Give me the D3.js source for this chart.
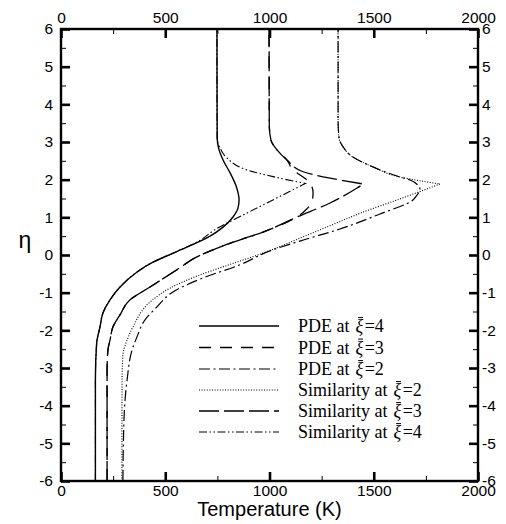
<!DOCTYPE html>
<html>
<head>
<meta charset="utf-8">
<script src="https://cdn.jsdelivr.net/npm/d3@7"></script>
<style>
  html, body { margin: 0; padding: 0; background: #fff; }
  svg { display: block; }
</style>
</head>
<body>
<svg id="chart" width="506" height="524"></svg>
<script>
// Temperature profiles T(eta): PDE solutions vs. similarity solutions
// Each profile is a list of [eta, T] pairs ordered from eta = -6 upward.

const tempTicks = [0, 500, 1000, 1500, 2000];
const tempMinorTicks = [250, 750, 1250, 1750];
const etaTicks = [-6, -5, -4, -3, -2, -1, 0, 1, 2, 3, 4, 5, 6];
const etaMinorTicks = [-5.5, -4.5, -3.5, -2.5, -1.5, -0.5, 0.5, 1.5, 2.5, 3.5, 4.5, 5.5];

const pdeXi4 = [[-6,165],[-3.3,165],[-2.34,171],[-1.91,187],[-1.54,201],[-1.19,235],[-0.85,283],
  [-0.45,365],[-0.19,441],[0.09,555],[0.5,715],[0.74,777],[1.01,825],[1.25,849],[1.46,854],
  [1.78,843],[2.18,811],[2.47,782],[2.79,758],[3.11,749],[6,748]];

const pdeXi3 = [[-6,221],[-3.05,221],[-2.52,225],[-2.26,235],[-1.91,249],[-1.59,283],[-1.19,331],
  [-0.85,427],[-0.39,556],[-0.05,652],[0.35,830],[0.61,969],[1.01,1132],[1.2,1175],[1.33,1195],
  [1.5,1207],[1.65,1209],[1.86,1200],[1.99,1180],[2.26,1113],[2.52,1084],[2.79,1036],
  [3.05,1007],[3.45,999],[6,998]];

const pdeXi2 = [[-6,297],[-4.38,302],[-3.32,317],[-2.52,341],[-2.18,364],[-1.72,403],[-1.38,460],
  [-0.98,537],[-0.61,681],[-0.26,858],[0.11,1002],[0.37,1146],[0.69,1338],[1.09,1530],
  [1.46,1688],[1.59,1707],[1.73,1722],[1.85,1712],[1.99,1674],[2.07,1626],[2.34,1496],
  [2.6,1400],[2.87,1353],[3.13,1333],[3.58,1329],[6,1329]];

const simXi2 = [[-6,292],[-3.32,293],[-2.65,297],[-2.26,317],[-1.91,345],[-1.25,427],[-0.88,523],
  [-0.56,652],[-0.27,800],[0.05,969],[0.48,1160],[0.8,1300],[1.12,1440],[1.49,1626],
  [1.885,1818],[2.07,1626],[2.34,1496],[2.6,1400],[2.87,1353],[3.13,1333],[3.58,1329],[6,1329]];

const simXi3 = [[-6,221],[-3.05,221],[-2.52,225],[-2.26,235],[-1.91,249],[-1.59,283],[-1.19,331],
  [-0.85,427],[-0.39,556],[-0.05,652],[0.35,830],[0.61,969],[1.01,1132],[1.38,1290],[1.78,1420],
  [1.885,1450],[2.04,1290],[2.21,1161],[2.52,1084],[2.79,1036],[3.05,1007],[3.45,999],[6,998]];

const simXi4 = [[-6,165],[-3.3,165],[-2.34,171],[-1.91,187],[-1.54,201],[-1.19,235],[-0.85,283],
  [-0.45,365],[-0.19,441],[0.09,555],[0.4,670],[0.66,735],[1.11,891],[1.55,1048],[1.9,1172],
  [2.08,1017],[2.26,891],[2.58,795],[2.84,763],[3.11,749],[6,748]];

const seriesNames = ["PDE at ", "PDE at ", "PDE at ", "Similarity at ", "Similarity at ", "Similarity at "];
const seriesXi = ["4", "3", "2", "2", "3", "4"];

const series = [
  { data: pdeXi4, cusp: false, dash: null,                  width: 1.4 },
  { data: pdeXi3, cusp: false, dash: "12,9",                width: 1.3 },
  { data: pdeXi2, cusp: false, dash: "11,3.5,2,3.5",        width: 1.2 },
  { data: simXi2, cusp: true,  dash: "1,1.6",               width: 1.1 },
  { data: simXi3, cusp: true,  dash: "20,5",                width: 1.3 },
  { data: simXi4, cusp: true,  dash: "8,2.5,1.5,2.5,1.5,2.5", width: 1.1 }
];

const svg = d3.select("#chart");
const mLeft = 61, mRight = 478, mTop = 29, mBottom = 481;

const x = d3.scaleLinear().domain([0, 2000]).range([mLeft, mRight]);
const y = d3.scaleLinear().domain([-6, 6]).range([mBottom, mTop]);

svg.append("rect").attr("width", 506).attr("height", 524).attr("fill", "#fff");

// curves
const line = d3.line().x(d => x(d[1])).y(d => y(d[0])).curve(d3.curveMonotoneY);

function profilePath(s) {
  if (!s.cusp) return line(s.data);
  // similarity profiles have a sharp peak: draw both branches and join at the peak
  const k = d3.maxIndex(s.data, d => d[1]);
  const lower = line(s.data.slice(0, k + 1));
  const upper = line(s.data.slice(k));
  return lower + upper.replace(/^M[^A-Za-z]*/, "");
}

const plot = svg.append("g");
series.forEach(s => {
  plot.append("path")
    .attr("d", profilePath(s))
    .attr("fill", "none")
    .attr("stroke", "#000")
    .attr("stroke-width", s.width)
    .attr("stroke-dasharray", s.dash);
});

// axes: major and minor ticks on all four sides, pointing inward
const tickFont = "'Liberation Sans', Arial, Helvetica, sans-serif";
function styleAxis(g, w) {
  g.select(".domain").remove();
  g.selectAll(".tick line").attr("stroke", "#000").attr("stroke-width", w);
  g.selectAll("text").attr("font-family", tickFont).attr("font-size", 15.5).attr("fill", "#000");
}
const fmt = d => String(d);

svg.append("g").attr("transform", `translate(0,${mBottom})`)
  .call(d3.axisBottom(x).tickValues(tempTicks).tickFormat(fmt).tickSize(-9).tickPadding(4))
  .call(g => styleAxis(g, 2.6));
svg.append("g").attr("transform", `translate(0,${mBottom})`)
  .call(d3.axisBottom(x).tickValues(tempMinorTicks).tickFormat("").tickSize(-5))
  .call(g => styleAxis(g, 1));
svg.append("g").attr("transform", `translate(0,${mTop})`)
  .call(d3.axisTop(x).tickValues(tempTicks).tickFormat(fmt).tickSize(-9).tickPadding(6))
  .call(g => styleAxis(g, 2.6));
svg.append("g").attr("transform", `translate(0,${mTop})`)
  .call(d3.axisTop(x).tickValues(tempMinorTicks).tickFormat("").tickSize(-5))
  .call(g => styleAxis(g, 1));
svg.append("g").attr("transform", `translate(${mLeft},0)`)
  .call(d3.axisLeft(y).tickValues(etaTicks).tickFormat(fmt).tickSize(-9).tickPadding(8))
  .call(g => styleAxis(g, 2.6));
svg.append("g").attr("transform", `translate(${mLeft},0)`)
  .call(d3.axisLeft(y).tickValues(etaMinorTicks).tickFormat("").tickSize(-5))
  .call(g => styleAxis(g, 1));
svg.append("g").attr("transform", `translate(${mRight},0)`)
  .call(d3.axisRight(y).tickValues(etaTicks).tickFormat(fmt).tickSize(-9).tickPadding(4))
  .call(g => styleAxis(g, 2.6));
svg.append("g").attr("transform", `translate(${mRight},0)`)
  .call(d3.axisRight(y).tickValues(etaMinorTicks).tickFormat("").tickSize(-5))
  .call(g => styleAxis(g, 1));

// frame
svg.append("rect")
  .attr("x", mLeft).attr("y", mTop)
  .attr("width", mRight - mLeft).attr("height", mBottom - mTop)
  .attr("fill", "none").attr("stroke", "#000").attr("stroke-width", 2.4);

// axis titles
svg.append("text")
  .attr("x", (mLeft + mRight) / 2).attr("y", 516)
  .attr("text-anchor", "middle")
  .attr("font-family", tickFont).attr("font-size", 20)
  .text("Temperature (K)");
svg.append("text")
  .attr("x", 25).attr("y", 248)
  .attr("text-anchor", "middle")
  .attr("font-family", tickFont).attr("font-size", 23)
  .text("η");

// legend
const legendRowY = [326, 347.5, 369, 390, 411, 432];
const legend = svg.append("g");
series.forEach((s, i) => {
  const ry = legendRowY[i];
  legend.append("line")
    .attr("x1", 199).attr("x2", 279).attr("y1", ry).attr("y2", ry)
    .attr("stroke", "#000").attr("stroke-width", s.width)
    .attr("stroke-dasharray", s.dash);
  const t = legend.append("text")
    .attr("x", 298).attr("y", ry + 6)
    .attr("font-family", "'Liberation Serif', 'Times New Roman', serif")
    .attr("font-size", 18).attr("fill", "#000");
  t.append("tspan").text(seriesNames[i]);
  t.append("tspan").attr("dx", 1.5).attr("font-style", "italic").text("ξ");
  t.append("tspan").attr("dx", 1.5).text("=" + seriesXi[i]);
  // bar over xi
  const xiIndex = seriesNames[i].length;
  const ext = t.node().getExtentOfChar(xiIndex);
  legend.append("line")
    .attr("x1", ext.x + 2.6).attr("x2", ext.x + ext.width - 0.2)
    .attr("y1", ext.y + 1.6).attr("y2", ext.y + 1.6)
    .attr("stroke", "#000").attr("stroke-width", 1);
});
</script>
</body>
</html>
